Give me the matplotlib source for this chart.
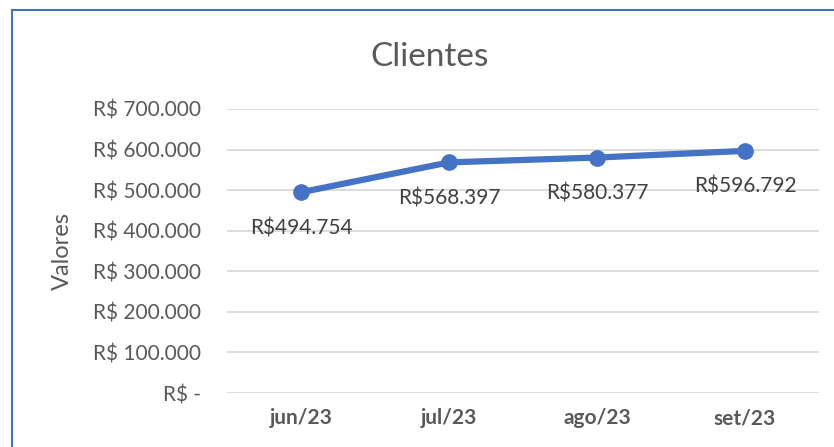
import matplotlib.pyplot as plt
from matplotlib.patches import Rectangle
from matplotlib.ticker import FuncFormatter

meses = ["jun/23", "jul/23", "ago/23", "set/23"]
valores = [494754, 568397, 580377, 596792]
rotulos = ["R$494.754", "R$568.397", "R$580.377", "R$596.792"]

azul = "#4472C4"
cinza = "#595959"

plt.rcParams['font.family'] = ['Lato', 'DejaVu Sans']

fig = plt.figure(figsize=(8.34, 4.47), dpi=100)
ax = fig.add_axes([227/834, 1 - 393/447, 592/834, 284/447])

x = range(len(meses))
ax.plot(x, valores, color=azul, lw=4.5, marker='o', ms=11, solid_capstyle='round', zorder=3)
for i, (v, r) in enumerate(zip(valores, rotulos)):
    ax.annotate(r, (i, v), xytext=(0, -26), textcoords='offset points',
                ha='center', va='center', fontsize=15, color='#404040')

ax.set_xlim(-0.5, len(meses) - 0.5)
ax.set_ylim(0, 700000)
ax.set_yticks(range(0, 700001, 100000))


def fmt(v, pos):
    if v == 0:
        return "R$ -"
    return "R$ " + f"{int(v):,}".replace(",", ".")


ax.yaxis.set_major_formatter(FuncFormatter(fmt))
ax.set_xticks(list(x))
ax.set_xticklabels(meses, fontweight='bold')
ax.tick_params(axis='both', length=0, labelsize=15, colors=cinza)
ax.tick_params(axis='y', pad=19)
ax.tick_params(axis='x', pad=11)
ax.grid(axis='y', color='#D9D9D9', lw=1.3)
ax.set_axisbelow(True)
for s in ax.spines.values():
    s.set_visible(False)

ax.set_ylabel("Valores", fontsize=17, color=cinza)
ax.yaxis.set_label_coords(-(227 - 73) / 592, 0.5)
fig.text(430/834, 1 - 57/447, "Clientes", ha='center', va='center', fontsize=24, color=cinza)

fig.patches.append(Rectangle((11.5/834, -0.1), 1.2, 1.1 - 10.5/447, transform=fig.transFigure,
                             fill=False, edgecolor=azul, lw=1.5))

fig.savefig("out.png", dpi=100)
